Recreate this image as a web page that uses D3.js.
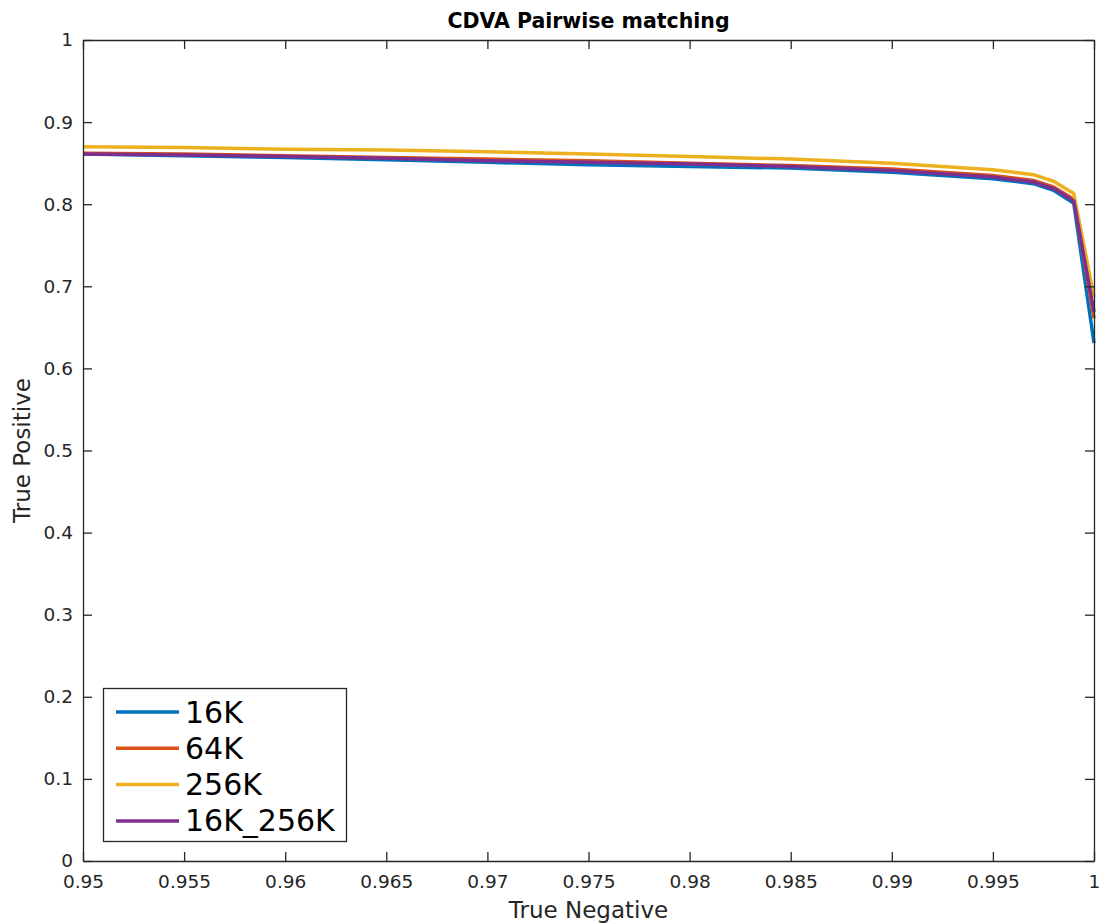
<!DOCTYPE html>
<html><head><meta charset="utf-8">
<script src="https://cdn.jsdelivr.net/npm/d3@7"></script>
<style>body{margin:0;background:#fff;} text{font-family:"DejaVu Sans",sans-serif;}</style>
</head><body><svg id="c" width="1107" height="924"></svg>
<script>
const xValues = [0.95, 0.955, 0.96, 0.965, 0.97, 0.975, 0.98, 0.985, 0.99, 0.995, 0.997, 0.998, 0.999, 1.0];
const s16K      = [0.861, 0.859, 0.857, 0.854, 0.851, 0.848, 0.846, 0.844, 0.839, 0.831, 0.825, 0.817, 0.801, 0.631];
const s64K      = [0.862, 0.861, 0.859, 0.857, 0.855, 0.853, 0.850, 0.847, 0.843, 0.835, 0.829, 0.821, 0.806, 0.661];
const s256K     = [0.870, 0.869, 0.867, 0.866, 0.864, 0.861, 0.858, 0.855, 0.850, 0.842, 0.836, 0.828, 0.813, 0.687];
const s16K_256K = [0.861, 0.860, 0.858, 0.856, 0.853, 0.851, 0.849, 0.846, 0.841, 0.833, 0.827, 0.819, 0.804, 0.669];
const seriesNames = ["16K", "64K", "256K", "16K_256K"];
const colors = ["#0072BD", "#D95319", "#EDB120", "#7E2F8E"];
const xTicks = [0.95, 0.955, 0.96, 0.965, 0.97, 0.975, 0.98, 0.985, 0.99, 0.995, 1];
const yTicks = [0, 0.1, 0.2, 0.3, 0.4, 0.5, 0.6, 0.7, 0.8, 0.9, 1];
const series = [s16K, s64K, s256K, s16K_256K];

const L = 83, R = 1094, T = 40, B = 861;
const svg = d3.select("#c");
const x = d3.scaleLinear().domain([0.95, 1]).range([L, R]);
const y = d3.scaleLinear().domain([0, 1]).range([B, T]);
const axisColor = "#262626";
const fmt = d => String(+d.toFixed(3));

// lines
const line = d3.line().x((d, i) => x(xValues[i])).y(d => y(d));
series.forEach((s, k) => {
  svg.append("path").datum(s).attr("d", line).attr("fill", "none")
    .attr("stroke", colors[k]).attr("stroke-width", 3.5).attr("stroke-linejoin", "round");
});

// axes
const gx = svg.append("g").attr("transform", `translate(0,${B})`)
  .call(d3.axisBottom(x).tickValues(xTicks).tickFormat(fmt).tickSizeInner(-9).tickSizeOuter(0).tickPadding(14));
const gxt = svg.append("g").attr("transform", `translate(0,${T})`)
  .call(d3.axisTop(x).tickValues(xTicks).tickFormat("").tickSizeInner(-9).tickSizeOuter(0));
const gy = svg.append("g").attr("transform", `translate(${L},0)`)
  .call(d3.axisLeft(y).tickValues(yTicks).tickFormat(fmt).tickSizeInner(-9).tickSizeOuter(0).tickPadding(10));
const gyr = svg.append("g").attr("transform", `translate(${R},0)`)
  .call(d3.axisRight(y).tickValues(yTicks).tickFormat("").tickSizeInner(-9).tickSizeOuter(0));
[gx, gxt, gy, gyr].forEach(g => {
  g.selectAll("path.domain").attr("stroke", axisColor).attr("stroke-width", 1.3);
  g.selectAll(".tick line").attr("stroke", axisColor).attr("stroke-width", 1.3);
  g.selectAll(".tick text").attr("fill", axisColor).style("font-size", "18.5px").style("font-family", "DejaVu Sans");
});

// title & labels
svg.append("text").attr("x", (L + R) / 2).attr("y", 28).attr("text-anchor", "middle")
  .style("font-size", "20.5px").style("font-weight", "bold").attr("fill", "#000").text("CDVA Pairwise matching");
svg.append("text").attr("x", (L + R) / 2).attr("y", 918).attr("text-anchor", "middle")
  .style("font-size", "23px").attr("fill", axisColor).text("True Negative");
svg.append("text").attr("transform", `translate(30,${(T + B) / 2}) rotate(-90)`).attr("text-anchor", "middle")
  .style("font-size", "23px").attr("fill", axisColor).text("True Positive");

// legend
const lg = svg.append("g");
lg.append("rect").attr("x", 103.5).attr("y", 688.5).attr("width", 243).attr("height", 153)
  .attr("fill", "#fff").attr("stroke", axisColor).attr("stroke-width", 1.3);
seriesNames.forEach((n, i) => {
  const cy = 712 + i * 36.3;
  lg.append("line").attr("x1", 116).attr("x2", 179).attr("y1", cy).attr("y2", cy)
    .attr("stroke", colors[i]).attr("stroke-width", 3.5);
  lg.append("text").attr("x", 185).attr("y", cy + 10.5).style("font-size", "30px")
    .attr("fill", "#000").text(n);
});
</script></body></html>
